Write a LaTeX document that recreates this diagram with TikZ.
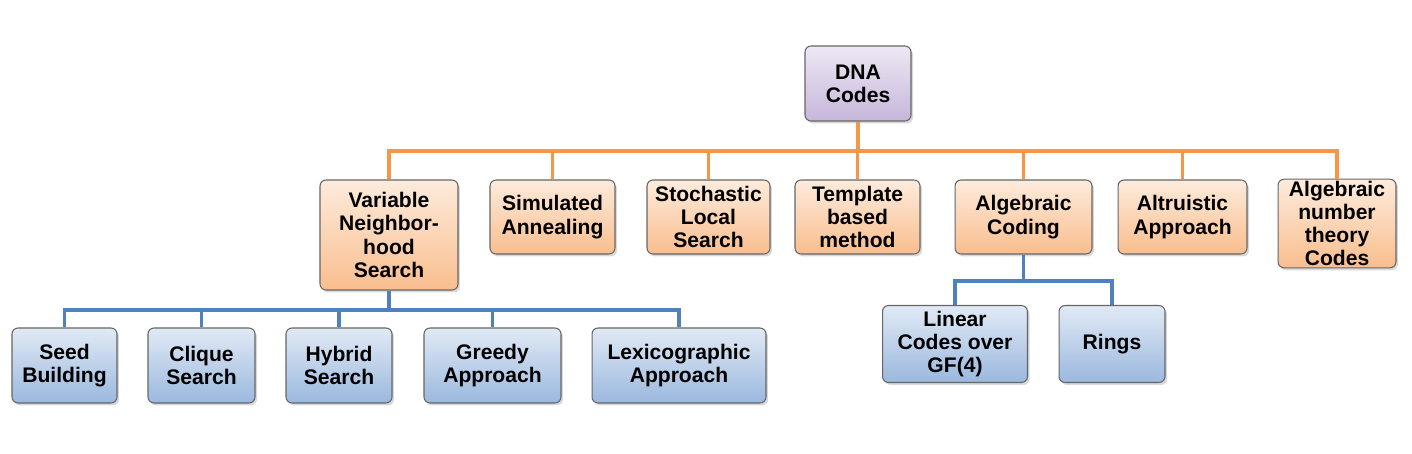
\documentclass[tikz,border=0pt]{standalone}
\usepackage{fontspec}
\setmainfont{Liberation Sans}
\usetikzlibrary{shadows}
\definecolor{orTop}{HTML}{FDEBDC}
\definecolor{orBot}{HTML}{F9BE8E}
\definecolor{blTop}{HTML}{E1EAF5}
\definecolor{blBot}{HTML}{9AB8DE}
\definecolor{puTop}{HTML}{EEE8F4}
\definecolor{puBot}{HTML}{C6B6DA}
\definecolor{orLine}{HTML}{F79646}
\definecolor{blLine}{HTML}{4F81BD}
\begin{document}
\begin{tikzpicture}[x=0.02cm, y=-0.02cm,
    box/.style={draw=black!60, line width=0.6pt, rounded corners=0.12cm, align=center,
        font=\fontsize{12}{13.2}\selectfont\bfseries, inner sep=1pt,
        drop shadow={opacity=0.3, shadow xshift=0.04cm, shadow yshift=-0.05cm}},
    orangebox/.style={box, top color=orTop, bottom color=orBot},
    bluebox/.style={box, top color=blTop, bottom color=blBot},
    purplebox/.style={box, top color=puTop, bottom color=puBot},
    orangeline/.style={draw=orLine, line width=2.2pt},
    blueline/.style={draw=blLine, line width=2.2pt}]
    \useasboundingbox (0,0) rectangle (1412,453);
    %%Goc
    \node[purplebox, minimum width=2.12cm, minimum height=1.5cm] (dna) at (858,83.5) {DNA\\Codes};
    %%Tang 2
    \node[orangebox, minimum width=2.76cm, minimum height=2.2cm] (vns) at (389,235) {Variable\\Neighbor-\\hood\\Search};
    \node[orangebox, minimum width=2.5cm, minimum height=1.48cm] (sa) at (552.5,217) {Simulated\\Annealing};
    \node[orangebox, minimum width=2.46cm, minimum height=1.48cm] (sls) at (708.5,217) {Stochastic\\Local\\Search};
    \node[orangebox, minimum width=2.5cm, minimum height=1.48cm] (tbm) at (857.5,217) {Template\\based\\method};
    \node[orangebox, minimum width=2.74cm, minimum height=1.48cm] (alg) at (1023.5,217) {Algebraic\\Coding};
    \node[orangebox, minimum width=2.58cm, minimum height=1.48cm] (alt) at (1182.5,217) {Altruistic\\Approach};
    \node[orangebox, minimum width=2.36cm, minimum height=1.76cm] (ant) at (1337,223.5) {Algebraic\\number\\theory\\Codes};
    %%Tang 3
    \node[bluebox, minimum width=2.1cm, minimum height=1.5cm] (seed) at (64.5,365.5) {Seed\\Building};
    \node[bluebox, minimum width=2.14cm, minimum height=1.5cm] (clq) at (201.5,365.5) {Clique\\Search};
    \node[bluebox, minimum width=2.12cm, minimum height=1.5cm] (hyb) at (339,365.5) {Hybrid\\Search};
    \node[bluebox, minimum width=2.74cm, minimum height=1.5cm] (grd) at (492.5,365.5) {Greedy\\Approach};
    \node[bluebox, minimum width=3.48cm, minimum height=1.5cm] (lex) at (679,365.5) {Lexicographic\\Approach};
    \node[bluebox, minimum width=2.9cm, minimum height=1.54cm] (lin) at (955,344) {Linear\\Codes over\\GF(4)};
    \node[bluebox, minimum width=2.12cm, minimum height=1.54cm] (rng) at (1112,344) {Rings};
    %%Cac duong noi
    \coordinate (obus) at (0,151);
    \coordinate (vbus) at (0,310);
    \coordinate (abus) at (0,281);
    \draw[orangeline] (dna.south) -- (dna.south |- obus) -| (vns.north);
    \draw[orangeline] (dna.south |- obus) -| (ant.north);
    \draw[orangeline] (dna.south |- obus) -| (sa.north);
    \draw[orangeline] (dna.south |- obus) -| (sls.north);
    \draw[orangeline] (dna.south |- obus) -| (tbm.north);
    \draw[orangeline] (dna.south |- obus) -| (alg.north);
    \draw[orangeline] (dna.south |- obus) -| (alt.north);
    \draw[blueline] (vns.south) -- (vns.south |- vbus) -| (seed.north);
    \draw[blueline] (vns.south |- vbus) -| (clq.north);
    \draw[blueline] (vns.south |- vbus) -| (hyb.north);
    \draw[blueline] (vns.south |- vbus) -| (grd.north);
    \draw[blueline] (vns.south |- vbus) -| (lex.north);
    \draw[blueline] (alg.south) -- (alg.south |- abus) -| (lin.north);
    \draw[blueline] (alg.south |- abus) -| (rng.north);
\end{tikzpicture}
\end{document}
